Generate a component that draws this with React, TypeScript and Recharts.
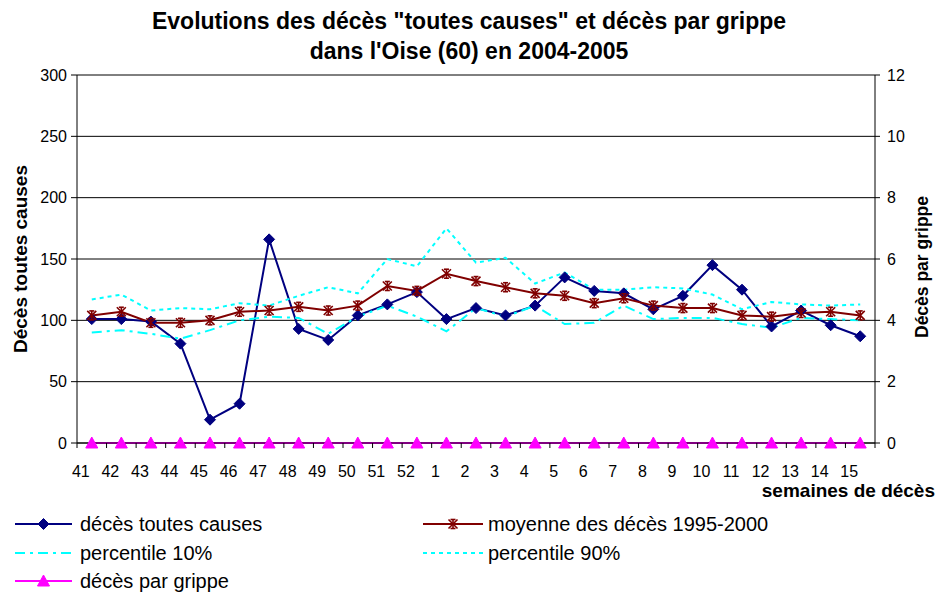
import React from "react"
import { CartesianGrid, ComposedChart, Line, XAxis, YAxis } from "recharts"

const weeks = [
  "41", "42", "43", "44", "45", "46", "47", "48", "49", "50", "51", "52",
  "1", "2", "3", "4", "5", "6", "7", "8", "9", "10", "11", "12", "13", "14", "15",
]
const decesToutesCauses = [
  101, 101, 99, 81, 19, 32, 166, 93, 84, 104, 113, 123, 101, 110, 104, 112, 135, 124,
  122, 109, 120, 145, 125, 95, 108, 96, 87,
]
const moyenne19952000 = [
  104, 107, 98, 98, 100, 107, 108, 111, 108, 112, 128, 124, 138, 132, 127, 122, 120, 114,
  118, 112, 110, 110, 104, 103, 106, 107, 104,
]
const percentile10 = [
  90, 92, 89, 85, 92, 100, 103, 102, 89, 103, 112, 103, 91, 110, 103, 112, 97, 98, 112,
  101, 102, 102, 97, 94, 102, 101, 100,
]
const percentile90 = [
  117, 121, 108, 110, 109, 114, 112, 120, 127, 122, 150, 144, 175, 147, 151, 130, 139, 125,
  125, 127, 126, 121, 109, 115, 113, 112, 113,
]
const decesGrippe = [
  0, 0, 0, 0, 0, 0, 0, 0, 0, 0, 0, 0, 0, 0, 0, 0, 0, 0, 0, 0, 0, 0, 0, 0, 0, 0, 0,
]
const leftTicks = [0, 50, 100, 150, 200, 250, 300]
const rightTicks = [0, 2, 4, 6, 8, 10, 12]

const rows = weeks.map((week, i) => ({
  week,
  deces: decesToutesCauses[i],
  moyenne: moyenne19952000[i],
  p10: percentile10[i],
  p90: percentile90[i],
  grippe: decesGrippe[i],
}))

const FONT = "Arial, 'Liberation Sans', sans-serif"
const NAVY = "#000080"
const MAROON = "#800000"
const CYAN = "#00FFFF"
const MAGENTA = "#FF00FF"

function Diamond({ cx, cy }: any) {
  if (cx == null || cy == null) return null
  return (
    <polygon
      points={`${cx},${cy - 5.5} ${cx + 5.5},${cy} ${cx},${cy + 5.5} ${cx - 5.5},${cy}`}
      fill={NAVY}
      stroke={NAVY}
    />
  )
}

function Star({ cx, cy }: any) {
  if (cx == null || cy == null) return null
  const r = 4.5
  return (
    <g stroke={MAROON} strokeWidth={1.6} fill="none">
      <line x1={cx - r} y1={cy - r} x2={cx + r} y2={cy + r} />
      <line x1={cx - r} y1={cy + r} x2={cx + r} y2={cy - r} />
      <line x1={cx} y1={cy - r} x2={cx} y2={cy + r} />
      <line x1={cx - 2.5} y1={cy - r} x2={cx + 2.5} y2={cy - r} />
      <line x1={cx - 2.5} y1={cy + r} x2={cx + 2.5} y2={cy + r} />
    </g>
  )
}

function Triangle({ cx, cy }: any) {
  if (cx == null || cy == null) return null
  return (
    <polygon
      points={`${cx},${cy - 6} ${cx + 6},${cy + 5} ${cx - 6},${cy + 5}`}
      fill={MAGENTA}
      stroke={MAGENTA}
    />
  )
}

function WeekTick(props: any) {
  const { x, y, payload, index, visibleTicksCount } = props
  const half = payload?.offset || 14.8
  return (
    <g>
      <line x1={x - half} x2={x - half} y1={y} y2={y + 5} stroke="#000" />
      {index === visibleTicksCount - 1 && (
        <line x1={x + half} x2={x + half} y1={y} y2={y + 5} stroke="#000" />
      )}
      <text x={x - 11} y={y + 34} textAnchor="middle" fontSize={16} fill="#000" fontFamily={FONT}>
        {payload.value}
      </text>
    </g>
  )
}

const legendItems = [
  { label: "décès toutes causes", color: NAVY, dash: undefined, marker: Diamond, col: 0, row: 0 },
  { label: "moyenne des décès 1995-2000", color: MAROON, dash: undefined, marker: Star, col: 1, row: 0 },
  { label: "percentile 10%", color: CYAN, dash: "10 5 3 5", marker: null, col: 0, row: 1 },
  { label: "percentile 90%", color: CYAN, dash: "4 4", marker: null, col: 1, row: 1 },
  { label: "décès par grippe", color: MAGENTA, dash: undefined, marker: Triangle, col: 0, row: 2 },
]

function Overlay() {
  const rowsY = [524, 553, 581]
  const cols = [
    { x1: 15, x2: 72, tx: 80 },
    { x1: 423, x2: 483, tx: 488 },
  ]
  return (
    <svg
      width={939}
      height={593}
      style={{ position: "absolute", left: 0, top: 0, pointerEvents: "none" }}
      fontFamily={FONT}
    >
      <text x={469} y={29} textAnchor="middle" fontSize={23} fontWeight="bold" fill="#000">
        Evolutions des décès "toutes causes" et décès par grippe
      </text>
      <text x={469} y={59} textAnchor="middle" fontSize={23} fontWeight="bold" fill="#000">
        dans l'Oise (60) en 2004-2005
      </text>
      <text
        x={0}
        y={0}
        transform="translate(27 259) rotate(-90)"
        textAnchor="middle"
        fontSize={19}
        fontWeight="bold"
        fill="#000"
      >
        Décès toutes causes
      </text>
      <text
        x={0}
        y={0}
        transform="translate(928 267) rotate(-90)"
        textAnchor="middle"
        fontSize={17.5}
        fontWeight="bold"
        fill="#000"
      >
        Décès par grippe
      </text>
      <text x={935} y={497} textAnchor="end" fontSize={19} fontWeight="bold" fill="#000">
        semaines de décès
      </text>
      {legendItems.map((item) => {
        const c = cols[item.col]
        const y = rowsY[item.row]
        const M = item.marker
        return (
          <g key={item.label}>
            <line
              x1={c.x1}
              x2={c.x2}
              y1={y}
              y2={y}
              stroke={item.color}
              strokeWidth={2}
              strokeDasharray={item.dash}
            />
            {M && <M cx={(c.x1 + c.x2) / 2} cy={y} />}
            <text x={c.tx} y={y + 7} fontSize={20} fill="#000">
              {item.label}
            </text>
          </g>
        )
      })}
    </svg>
  )
}

export default function App() {
  return (
    <div
      style={{
        position: "absolute",
        left: 0,
        top: 0,
        width: 939,
        height: 593,
        background: "#fff",
        fontFamily: FONT,
      }}
    >
      <ComposedChart
        width={939}
        height={593}
        data={rows}
        margin={{ top: 75, right: 0, bottom: 110, left: 0 }}
      >
        <CartesianGrid yAxisId="left" vertical={false} stroke="#000" strokeWidth={1} />
        <XAxis
          dataKey="week"
          scale="band"
          interval={0}
          height={40}
          tickLine={false}
          tickSize={0}
          tickMargin={0}
          axisLine={{ stroke: "#000" }}
          tick={<WeekTick />}
        />
        <YAxis
          yAxisId="left"
          width={77}
          domain={[0, 300]}
          ticks={leftTicks}
          interval={0}
          tickSize={6}
          tickMargin={4}
          axisLine={{ stroke: "#000" }}
          tickLine={{ stroke: "#000" }}
          tick={{ fontSize: 16, fill: "#000", fontFamily: FONT }}
        />
        <YAxis
          yAxisId="right"
          orientation="right"
          width={64}
          domain={[0, 12]}
          ticks={rightTicks}
          interval={0}
          tickSize={5}
          tickMargin={7}
          axisLine={{ stroke: "#000" }}
          tickLine={{ stroke: "#000" }}
          tick={{ fontSize: 16, fill: "#000", fontFamily: FONT }}
        />
        <Line
          yAxisId="left"
          dataKey="deces"
          name="décès toutes causes"
          type="linear"
          stroke={NAVY}
          strokeWidth={2}
          dot={<Diamond />}
          activeDot={false}
          isAnimationActive={false}
        />
        <Line
          yAxisId="left"
          dataKey="moyenne"
          name="moyenne des décès 1995-2000"
          type="linear"
          stroke={MAROON}
          strokeWidth={2}
          dot={<Star />}
          activeDot={false}
          isAnimationActive={false}
        />
        <Line
          yAxisId="left"
          dataKey="p10"
          name="percentile 10%"
          type="linear"
          stroke={CYAN}
          strokeWidth={2}
          strokeDasharray="10 5 3 5"
          dot={false}
          activeDot={false}
          isAnimationActive={false}
        />
        <Line
          yAxisId="left"
          dataKey="p90"
          name="percentile 90%"
          type="linear"
          stroke={CYAN}
          strokeWidth={2}
          strokeDasharray="4 4"
          dot={false}
          activeDot={false}
          isAnimationActive={false}
        />
        <Line
          yAxisId="right"
          dataKey="grippe"
          name="décès par grippe"
          type="linear"
          stroke={MAGENTA}
          strokeWidth={2}
          dot={<Triangle />}
          activeDot={false}
          isAnimationActive={false}
        />
      </ComposedChart>
      <Overlay />
    </div>
  )
}
